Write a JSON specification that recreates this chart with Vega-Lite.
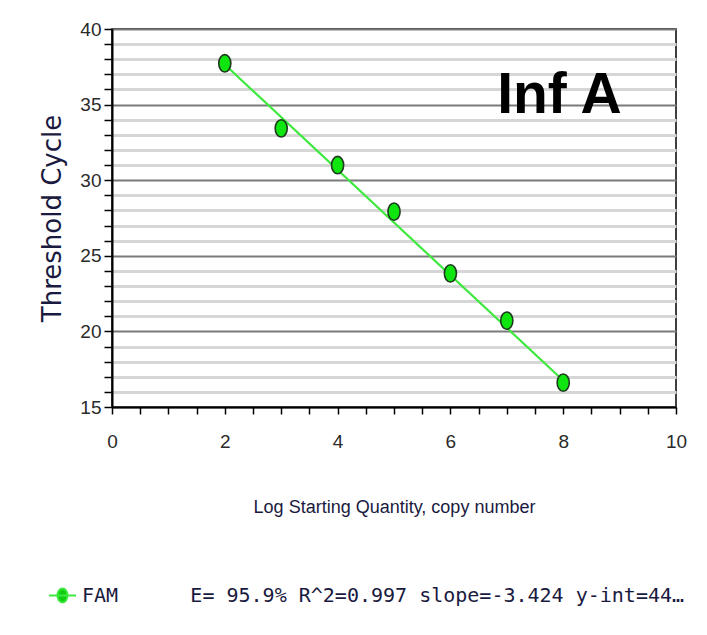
{
  "$schema": "https://vega.github.io/schema/vega-lite/v6.json",
  "autosize": {"type": "none"},
  "width": 564,
  "height": 378,
  "padding": {"left": 112, "top": 29, "right": 31, "bottom": 228},
  "background": "white",
  "config": {
    "view": {"stroke": "#000000", "strokeWidth": 1.5},
    "axis": {
      "domainColor": "#000000",
      "domainWidth": 2,
      "tickColor": "#000000",
      "tickWidth": 1.5,
      "labelFont": "Liberation Sans, Arial, sans-serif",
      "labelFontSize": 19,
      "labelColor": "#2a2a2a",
      "labelOverlap": false,
      "labelBound": false,
      "labelFlush": false,
      "titleColor": "#1a1a40",
      "titleFontWeight": "normal"
    }
  },
  "datasets": {
    "points": [
      {"logq": 2, "ct": 37.73, "series": "FAM"},
      {"logq": 3, "ct": 33.43, "series": "FAM"},
      {"logq": 4, "ct": 31.0, "series": "FAM"},
      {"logq": 5, "ct": 27.92, "series": "FAM"},
      {"logq": 6, "ct": 23.84, "series": "FAM"},
      {"logq": 7, "ct": 20.71, "series": "FAM"},
      {"logq": 8, "ct": 16.61, "series": "FAM"}
    ],
    "fit": [
      {"logq": 2, "ct": 37.65, "series": "FAM"},
      {"logq": 8, "ct": 16.75, "series": "FAM"}
    ],
    "labels": [
      {"label": "Inf A"}
    ]
  },
  "layer": [
    {
      "data": {"name": "fit"},
      "mark": {"type": "line", "strokeWidth": 2.2},
      "encoding": {
        "x": {
          "field": "logq", "type": "quantitative",
          "scale": {"domain": [0, 10], "nice": false},
          "axis": {
            "title": "Log Starting Quantity, copy number",
            "titleFont": "Liberation Sans, Arial, sans-serif",
            "titleFontSize": 18,
            "titlePadding": 47,
            "values": [0,0.5,1,1.5,2,2.5,3,3.5,4,4.5,5,5.5,6,6.5,7,7.5,8,8.5,9,9.5,10],
            "tickCount": 100,
            "labelExpr": "datum.value % 2 === 0 ? format(datum.value, 'd') : ''",
            "tickSize": 7,
            "labelPadding": 18,
            "grid": false
          }
        },
        "y": {
          "field": "ct", "type": "quantitative",
          "scale": {"domain": [15, 40], "nice": false},
          "axis": {
            "title": "Threshold Cycle",
            "titleFont": "DejaVu Sans, sans-serif",
            "titleFontSize": 26,
            "titlePadding": 14,
            "values": [15,16,17,18,19,20,21,22,23,24,25,26,27,28,29,30,31,32,33,34,35,36,37,38,39,40],
            "tickCount": 100,
            "labelExpr": "datum.value % 5 === 0 ? format(datum.value, 'd') : ''",
            "tickSize": 8,
            "labelPadding": 3,
            "grid": true,
            "gridColor": {"condition": {"test": "datum.value % 5 === 0", "value": "#7a7a7a"}, "value": "#d6d6d6"},
            "gridWidth": {"condition": {"test": "datum.value % 5 === 0", "value": 2}, "value": 3}
          }
        },
        "color": {
          "field": "series", "type": "nominal",
          "scale": {"domain": ["FAM"], "range": ["#3ee83e"]},
          "legend": {
            "orient": "none",
            "legendX": -64,
            "legendY": 552,
            "title": null,
            "padding": 0,
            "labelFont": "DejaVu Sans Mono, Liberation Mono, monospace",
            "labelFontSize": 20,
            "labelColor": "#1a1a40",
            "labelLimit": 800,
            "labelOffset": 5,
            "symbolType": "M-1,0L1,0M-0.37,0A0.37,0.52,0,1,0,0.37,0A0.37,0.52,0,1,0,-0.37,0Z",
            "symbolSize": 729,
            "symbolStrokeWidth": 2,
            "labelExpr": "'FAM\u00a0\u00a0\u00a0\u00a0\u00a0\u00a0E= 95.9% R^2=0.997 slope=-3.424 y-int=44\u2026'",
            "encode": {
              "symbols": {"update": {"fill": {"value": "#11cc11"}, "stroke": {"value": "#3ee83e"}, "fillOpacity": {"value": 1}}}
            }
          }
        }
      }
    },
    {
      "data": {"name": "points"},
      "mark": {
        "type": "point",
        "shape": "M0,-1A0.7,1,0,1,1,0,1A0.7,1,0,1,1,0,-1Z",
        "size": 300,
        "filled": true,
        "fill": "#0fe60f",
        "fillOpacity": 1,
        "stroke": "#1f3a1f",
        "strokeWidth": 1.6
      },
      "encoding": {
        "x": {"field": "logq", "type": "quantitative"},
        "y": {"field": "ct", "type": "quantitative"}
      }
    },
    {
      "data": {"name": "labels"},
      "mark": {
        "type": "text",
        "font": "Liberation Sans, Arial, sans-serif",
        "fontSize": 57,
        "fontWeight": "bold",
        "color": "#000000",
        "align": "left",
        "baseline": "alphabetic"
      },
      "encoding": {
        "text": {"field": "label"},
        "x": {"datum": 6.83},
        "y": {"datum": 34.45}
      }
    }
  ]
}
